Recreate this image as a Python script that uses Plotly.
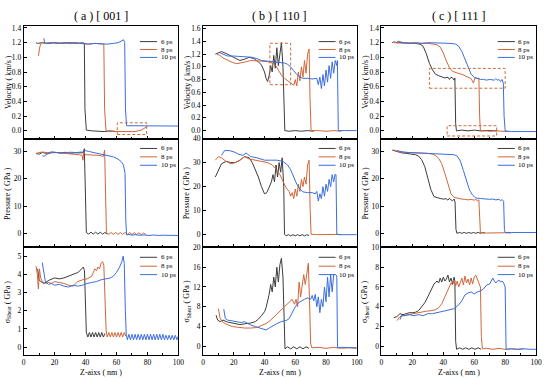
import plotly.graph_objects as go

# ---------------- data (Z position nm, value) ----------------
SERIES = ["6 ps", "8 ps", "10 ps"]
PANEL_TITLES = ["( a ) [ 001 ]", "( b ) [ 110 ]", "( c ) [ 111 ]"]
Y_TITLES = ["Velocity ( km/s )", "Pressure ( GPa )", "σ<sub>Shear</sub> ( GPa )"]
X_TITLE = "Z-aixs ( nm )"
X_TICKS = [0, 20, 40, 60, 80, 100]
VEL_TICKS_AC = [0.0, 0.2, 0.4, 0.6, 0.8, 1.0, 1.2, 1.4]
VEL_TICKS_B = [0.0, 0.2, 0.4, 0.6, 0.8, 1.0, 1.2, 1.4, 1.6]
P_TICKS_AC = [0, 10, 20, 30]
P_TICKS_B = [0, 10, 20, 30, 40]
S_TICKS_A = [0, 1, 2, 3, 4, 5]
S_TICKS_B = [0, 4, 8, 12, 16, 20]
S_TICKS_C = [0, 2, 4, 6, 8, 10]

A_VEL_6 = [(8,1.20),(9,1.19),(12,1.20),(16,1.19),(20,1.20),(24,1.19),(28,1.20),(32,1.19),(36,1.19),(38,1.20),(39.2,1.19),(39.6,0.30),(40.5,0.01),(44,0.00),(48,-0.01),(52,-0.01),(56,0.00),(60,-0.01)]
A_VEL_8 = [(9.5,1.02),(10.5,1.15),(11.5,1.20),(14,1.19),(18,1.20),(22,1.19),(26,1.19),(30,1.20),(34,1.19),(38,1.18),(42,1.18),(46,1.19),(50,1.18),(51.8,1.18),(52.3,0.30),(53.2,0.00),(56,-0.01),(60,-0.01),(64,-0.02),(68,-0.02),(72,-0.01),(76,0.01),(78,0.04),(80,0.06)]
A_VEL_10 = [(13,1.26),(13.5,1.20),(14.5,1.19),(18,1.20),(22,1.19),(26,1.20),(30,1.19),(34,1.20),(38,1.19),(42,1.18),(46,1.19),(50,1.18),(54,1.18),(58,1.19),(61,1.20),(63,1.22),(64.5,1.24),(65.3,1.20),(65.8,0.30),(66.5,0.07),(70,0.07),(75,0.065),(80,0.07),(85,0.065),(90,0.07),(95,0.065),(100,0.065)]

A_P_6 = [(8,29.2),(10,29.0),(12,29.6),(15,29.3),(18,29.8),(21,29.5),(24,29.4),(27,29.7),(30,29.3),(33,29.5),(36,29.4),(38.5,29.5),(39.2,31.0),(39.8,15.0),(40.5,0.4),(42,-0.2),(43.5,0.5),(45,-0.2),(46.5,0.5),(48,-0.2),(49.5,0.5),(51,-0.2),(52.5,0.4),(54,-0.2)]
A_P_8 = [(8,29.3),(10,29.5),(12,29.8),(16,29.5),(20,29.7),(24,29.4),(28,29.3),(32,29.0),(36,28.8),(37.8,28.5),(38.3,26.8),(38.8,29.8),(40,28.8),(44,28.8),(48,28.6),(50,28.4),(51.5,28.2),(52.3,30.5),(52.7,15.0),(53.5,0.3),(55,-0.3),(56.5,0.4),(58,-0.3),(59.5,0.4),(61,-0.3),(62.5,0.4),(64,-0.3),(65.5,0.4),(67,-0.3),(68.5,0.4),(70,-0.3),(71.5,0.3),(73,-0.4),(74.5,0.3),(76,-0.4),(77.5,0.2),(79,-0.4)]
A_P_10 = [(12,28.5),(13,28.2),(15,29.0),(18,29.5),(22,29.6),(26,29.5),(30,29.7),(34,29.6),(38,29.8),(40,30.3),(42,30.0),(46,29.5),(50,29.2),(54,28.7),(58,28.0),(61,27.2),(63,26.3),(64.5,25.0),(65.5,22.0),(66,5.0),(66.5,-0.5),(68,-0.3),(70,-0.6),(72,-0.4),(75,-0.6),(78,-0.5),(81,-0.7),(84,-0.5),(87,-0.7),(90,-0.6),(93,-0.7),(96,-0.6),(100,-0.7)]

A_S_6 = [(9,4.3),(10,3.7),(11,3.6),(13,3.5),(15,3.6),(17,3.7),(20,3.8),(23,3.75),(26,3.8),(29,3.9),(32,4.0),(35,4.1),(37,4.25),(38.5,4.4),(39.3,4.2),(39.9,2.0),(40.5,0.8),(41.5,0.55),(42.5,0.8),(43.5,0.55),(44.5,0.8),(45.5,0.55),(46.5,0.8),(47.5,0.55),(48.5,0.8),(49.5,0.55),(50.5,0.8),(51.5,0.55),(52.5,0.75)]
A_S_8 = [(8,4.45),(8.8,4.0),(9.5,3.2),(10.2,4.3),(11,3.8),(12,3.6),(14,3.5),(16,3.55),(18,3.5),(20,3.6),(23,3.55),(26,3.5),(29,3.4),(32,3.35),(35,3.6),(38,3.7),(41,3.75),(44,3.9),(46,4.3),(47,4.2),(48,4.4),(49,4.3),(50,4.6),(51,4.7),(51.8,4.5),(52.5,2.5),(53.3,0.9),(54,0.55),(55,0.8),(56,0.55),(57,0.8),(58,0.55),(59,0.8),(60,0.55),(61,0.8),(62,0.55),(63,0.8),(64,0.55),(65,0.8),(66,0.6)]
A_S_10 = [(12,4.65),(13,4.1),(14,3.6),(16,3.45),(18,3.5),(20,3.4),(23,3.45),(26,3.35),(29,3.3),(32,3.4),(35,3.35),(38,3.4),(41,3.5),(44,3.55),(47,3.6),(50,3.7),(53,3.75),(56,3.8),(58,3.9),(60,4.1),(62,4.4),(63.5,4.7),(64.3,5.0),(65,4.6),(65.7,2.0),(66.3,0.7),(67,0.4),(68,0.7),(69,0.4),(70,0.7),(71,0.4),(72,0.7),(73,0.4),(74,0.7),(75,0.4),(76,0.7),(77,0.4),(78,0.7),(79,0.4),(80,0.7),(81,0.4),(82,0.7),(83,0.4),(84,0.7),(85,0.4),(86,0.7),(87,0.4),(88,0.7),(89,0.4),(90,0.7),(91,0.4),(92,0.65),(93,0.4),(94,0.65),(95,0.4),(96,0.65),(97,0.4),(98,0.65),(99,0.4),(100,0.6)]

B_VEL_6 = [(8,1.20),(10,1.22),(12,1.24),(15,1.21),(18,1.17),(21,1.13),(24,1.10),(27,1.12),(30,1.15),(33,1.13),(36,1.08),(38,1.03),(40,0.92),(41,0.82),(42,0.77),(43,0.86),(44,1.02),(45,0.92),(46,1.18),(47,0.98),(48,1.30),(49,1.02),(50,1.20),(51,1.38),(52,1.00),(52.6,0.30),(53.2,0.00),(56,-0.01),(60,0.00),(64,-0.01),(68,0.00),(72,-0.01)]
B_VEL_8 = [(9,1.20),(11,1.18),(13,1.14),(16,1.10),(19,1.07),(22,1.05),(25,1.06),(28,1.08),(31,1.10),(34,1.10),(38,1.09),(42,1.08),(45,1.06),(47,1.03),(49,0.95),(51,0.87),(53,0.82),(55,0.78),(57,0.74),(59,0.71),(60,0.80),(61,0.70),(62,0.92),(63,0.78),(64,1.00),(65,0.84),(66,1.10),(67,0.90),(68,1.20),(69,1.28),(69.6,0.50),(70.3,0.00),(75,0.00),(80,-0.01),(85,0.00),(90,-0.01)]
B_VEL_10 = [(11,1.22),(13,1.20),(16,1.17),(20,1.17),(24,1.16),(28,1.16),(32,1.15),(35,1.13),(38,1.10),(42,1.09),(46,1.08),(50,1.07),(53,1.06),(55,1.04),(57,1.00),(59,0.94),(61,0.88),(63,0.84),(65,0.82),(68,0.82),(71,0.81),(74,0.82),(75,0.72),(76,0.84),(77,0.66),(78,0.88),(79,0.70),(80,0.95),(81,0.76),(82,1.02),(83,0.82),(84,1.08),(85,0.90),(86,1.10),(87,1.02),(87.4,1.10),(88,0.00),(92,0.00),(96,0.00),(100,0.00)]

B_P_6 = [(8,24.0),(10,27.0),(12,29.5),(15,30.5),(18,30.0),(21,30.0),(24,31.0),(27,32.5),(30,32.0),(32,30.0),(34,27.0),(36,24.0),(38,20.0),(40,17.0),(41.5,17.5),(43,20.0),(44.5,22.0),(45.5,25.0),(46.5,22.0),(47.5,29.0),(48.5,24.0),(49.5,30.0),(50.5,26.0),(51.5,32.0),(52.5,20.0),(53,0.2),(54,-0.5),(55.5,0.0),(57,-0.5),(58.5,0.0),(60,-0.5),(61.5,0.0),(63,-0.5),(64.5,0.0),(66,-0.5),(67.5,0.0),(69,-0.4)]
B_P_8 = [(8,31.0),(10,32.5),(12,32.0),(15,30.5),(18,29.5),(21,30.0),(24,31.0),(27,32.5),(30,31.5),(34,31.0),(38,30.5),(42,30.0),(45,29.0),(48,27.0),(50,25.0),(52,22.0),(54,19.5),(56,18.0),(57,16.0),(58,17.5),(59,15.0),(60,19.0),(61,16.0),(62,21.0),(63,18.0),(64,23.0),(65,20.0),(66,24.0),(67,21.0),(68,29.0),(69,31.0),(69.7,10.0),(70.3,0.2),(74,0.0),(78,0.1),(82,0.0),(86,0.1),(90,0.0)]
B_P_10 = [(12,33.0),(14,35.0),(17,35.0),(20,34.5),(23,33.5),(26,33.0),(28,34.0),(31,32.5),(35,32.0),(40,31.0),(44,31.0),(48,31.0),(52,30.5),(55,29.0),(57,27.0),(59,24.0),(61,21.0),(63,19.0),(65,17.8),(68,17.5),(71,17.5),(73,17.0),(74,18.0),(75,14.0),(76,17.0),(77,15.0),(78,20.0),(79,16.0),(80,21.0),(81,18.0),(82,23.0),(83,20.0),(84,25.0),(85,22.0),(85.8,25.0),(86.5,25.0),(87,0.2),(90,0.0),(95,0.1),(100,0.0)]

B_S_6 = [(8.5,6.3),(9.5,5.3),(11,5.0),(13,5.3),(16,4.9),(20,4.6),(24,4.4),(28,4.6),(31,4.7),(34,5.0),(36,5.5),(38,6.2),(40,7.0),(41,7.8),(42,9.0),(43,10.5),(44,12.5),(45,11.0),(46,14.0),(47,12.0),(48,16.0),(49,13.0),(50,16.5),(51,17.8),(52,14.0),(52.7,3.0),(53.3,-0.5),(55,-0.1),(57,-0.5),(59,-0.1),(61,-0.5),(63,-0.1),(65,-0.5),(67,-0.1),(69,-0.4)]
B_S_8 = [(10,7.6),(11,5.8),(12.5,5.0),(15,4.5),(19,4.0),(23,3.8),(27,3.7),(31,3.7),(35,3.8),(38,4.2),(41,4.6),(44,5.3),(47,6.2),(50,7.2),(53,8.2),(56,9.0),(58,9.5),(59.5,8.5),(60.5,9.5),(61.5,8.0),(62.5,13.0),(63.5,10.0),(64.5,12.0),(65.5,14.5),(66.5,12.5),(67.5,15.0),(68.5,16.8),(69.3,9.0),(70,0.5),(70.8,-0.3),(75,-0.2),(80,-0.4),(85,-0.2),(90,-0.4),(95,-0.3),(100,-0.4)]
B_S_10 = [(13.5,7.5),(14.5,5.6),(16,5.3),(19,5.1),(22,5.0),(25,4.8),(27,5.0),(29,4.6),(31,4.3),(34,4.0),(37,3.7),(39,3.4),(41,3.3),(43,3.7),(45,4.1),(48,4.6),(51,5.0),(54,5.2),(56,5.6),(58,6.8),(60,8.0),(62,8.8),(64,9.2),(66,9.5),(68,9.8),(70,9.5),(71,10.3),(72,9.2),(73,10.5),(74,8.0),(75,10.0),(76,6.8),(77,9.5),(78,8.0),(79,12.0),(80,9.0),(81,14.0),(82,10.0),(83,14.5),(84,11.0),(85,14.5),(86,14.5),(87,14.3),(87.5,-0.3),(90,-0.2),(95,-0.3),(100,-0.3)]

C_VEL_6 = [(7,1.20),(8,1.21),(10,1.20),(14,1.20),(18,1.19),(22,1.19),(25,1.18),(27,1.15),(29,1.05),(31,0.92),(33,0.83),(35,0.77),(37,0.75),(39,0.74),(41,0.72),(43,0.73),(44,0.70),(45,0.73),(46,0.72),(47,0.69),(47.5,0.72),(48,0.10),(48.5,0.00),(52,0.01),(56,0.00),(60,0.01),(64,0.00),(68,0.005),(72,0.00),(75,0.00)]
C_VEL_8 = [(8,1.20),(12,1.20),(16,1.19),(20,1.20),(25,1.19),(30,1.19),(34,1.18),(36,1.17),(38,1.14),(40,1.06),(42,0.95),(44,0.86),(46,0.81),(48,0.79),(50,0.78),(52,0.77),(54,0.75),(56,0.73),(58,0.71),(59.5,0.65),(60.5,0.72),(62,0.71),(63,0.72),(63.5,0.20),(64,0.00),(67,0.00),(70,-0.005),(74,0.00),(78,-0.005),(82,-0.01)]
C_VEL_10 = [(10,1.21),(11,1.22),(14,1.20),(18,1.19),(22,1.20),(26,1.19),(30,1.20),(35,1.20),(40,1.19),(45,1.19),(48,1.18),(50,1.15),(52,1.08),(54,0.98),(56,0.86),(58,0.77),(60,0.73),(62,0.71),(64,0.70),(66,0.70),(68,0.69),(70,0.70),(72,0.70),(73,0.69),(74,0.71),(75,0.69),(76,0.70),(77,0.67),(78,0.70),(78.8,0.65),(79.3,0.20),(80,0.00),(84,-0.01),(88,-0.01),(92,-0.01),(96,-0.01),(100,-0.01)]

C_P_6 = [(7,30.5),(10,30.0),(13,29.5),(16,29.3),(19,29.0),(22,28.8),(24,28.3),(26,27.0),(28,24.5),(30,20.5),(32,16.0),(34,13.5),(36,13.0),(38,12.8),(40,12.6),(42,12.7),(43,12.2),(44,12.9),(45,12.3),(46,12.0),(47,12.6),(47.6,11.5),(48.2,1.5),(48.8,0.1),(50.5,0.4),(52,0.1),(53.5,0.4),(55,0.1),(56.5,0.4),(58,0.1),(59.5,0.4),(61,0.1),(62.5,0.4),(64,0.1),(65.5,0.4),(67,0.2)]
C_P_8 = [(8,30.5),(12,29.8),(16,29.6),(20,29.5),(25,29.5),(30,29.3),(33,29.0),(35,28.5),(37,27.5),(39,25.5),(41,22.0),(43,18.0),(45,14.5),(47,13.2),(50,12.7),(52,12.6),(54,12.5),(56,12.3),(58,12.5),(60,12.2),(61,12.5),(62,12.0),(63,12.3),(63.5,1.5),(64,0.3),(68,0.2),(72,0.3),(76,0.2),(80,0.3),(84,0.2)]
C_P_10 = [(10,30.3),(14,29.8),(18,29.6),(22,29.5),(26,29.5),(30,29.4),(35,29.3),(40,29.0),(44,29.0),(47,28.8),(49,28.3),(51,26.5),(53,23.0),(55,19.0),(57,15.8),(59,14.0),(61,13.0),(64,12.8),(67,12.6),(70,12.5),(72,12.6),(74,12.3),(76,12.5),(77,12.0),(78,12.4),(79,11.8),(79.5,1.5),(80,0.4),(84,0.4),(88,0.4),(92,0.4),(96,0.4),(100,0.4)]

C_S_6 = [(8,2.9),(10,3.0),(12,3.3),(14,3.2),(16,3.3),(18,3.4),(20,3.4),(22,3.45),(24,3.6),(26,4.0),(28,4.4),(30,5.0),(32,5.6),(34,6.3),(36,6.6),(37,6.4),(38,6.9),(39,6.5),(40,7.0),(41,6.6),(42,6.8),(43,7.2),(44,6.5),(45,6.9),(46,6.3),(47,7.0),(47.5,6.6),(48,0.5),(48.6,-0.3),(50.5,-0.15),(52.5,-0.3),(54.5,-0.15),(56.5,-0.3),(58.5,-0.15),(60.5,-0.3),(62.5,-0.15),(64.5,-0.3)]
C_S_8 = [(10,2.6),(12,3.0),(14,3.1),(17,3.2),(20,3.3),(23,3.4),(26,3.5),(29,3.55),(32,3.6),(35,3.7),(37,3.9),(39,4.3),(41,5.0),(43,5.8),(45,6.4),(46,6.2),(47,6.7),(48,6.1),(49,6.6),(50,6.0),(51,6.5),(52,6.9),(53,6.2),(54,7.1),(55,6.4),(56,6.8),(57,6.2),(58,6.9),(59,6.3),(60,7.0),(61,7.2),(62,6.8),(63,6.4),(64,6.0),(64.6,1.0),(65.3,-0.25),(68,-0.2),(72,-0.3),(76,-0.2),(80,-0.3),(84,-0.25),(88,-0.3),(92,-0.25)]
C_S_10 = [(12,2.7),(13,3.1),(15,3.1),(18,3.2),(21,3.1),(24,3.2),(27,3.1),(30,3.3),(33,3.3),(36,3.4),(40,3.6),(44,3.7),(47,3.8),(50,4.2),(52,4.6),(54,5.2),(56,5.4),(58,5.5),(60,5.3),(62,5.5),(64,5.6),(66,5.8),(68,6.2),(70,6.3),(71,6.6),(72,6.9),(73,6.6),(74,6.4),(75,6.6),(76,6.7),(77,6.5),(78,6.6),(79,6.4),(80,6.0),(80.6,-0.3),(84,-0.25),(88,-0.3),(92,-0.25),(96,-0.3),(100,-0.3)]

# ---------------- styling / layout ----------------
W, H = 550, 378
FONT = "Liberation Serif"
COLORS = ["#3c3c3c", "#d2663a", "#3a6ee0"]
BOX_COLOR = "#c4703e"
COL_PX = [(22, 179), (204, 360), (385, 542)]
ROW_PX = [(22, 136), (136, 246), (246, 355)]
LEG_OFF = [(16, 24, 32), (10, 18.5, 27), (10, 19, 27.5)]
TICK_SIZE = 7.5

PANELS = [
    [(A_VEL_6, A_VEL_8, A_VEL_10), (B_VEL_6, B_VEL_8, B_VEL_10), (C_VEL_6, C_VEL_8, C_VEL_10)],
    [(A_P_6, A_P_8, A_P_10), (B_P_6, B_P_8, B_P_10), (C_P_6, C_P_8, C_P_10)],
    [(A_S_6, A_S_8, A_S_10), (B_S_6, B_S_8, B_S_10), (C_S_6, C_S_8, C_S_10)],
]
YTICKS = [
    [VEL_TICKS_AC, VEL_TICKS_B, VEL_TICKS_AC],
    [P_TICKS_AC, P_TICKS_B, P_TICKS_AC],
    [S_TICKS_A, S_TICKS_B, S_TICKS_C],
]
YRANGES = [
    [(-0.105, 1.43), (-0.125, 1.645), (-0.105, 1.43)],
    [(-5.05, 34.7), (-5.3, 40.0), (-5.05, 34.7)],
    [(-0.45, 5.48), (-1.8, 20.0), (-0.9, 10.0)],
]
YFMT = [".1f", "d", "d"]

# dashed highlight boxes: (row, col, x0, x1, y0, y1)
BOXES = [
    (0, 0, 60.5, 79.5, -0.05, 0.11),
    (0, 1, 43.5, 57.0, 0.72, 1.37),
    (0, 2, 31.0, 80.0, 0.58, 0.85),
    (0, 2, 42.5, 74.5, -0.07, 0.07),
]

fig = go.Figure()
layout = dict(
    width=W, height=H, margin=dict(l=0, r=0, t=0, b=0),
    paper_bgcolor="white", plot_bgcolor="white", showlegend=False,
    font=dict(family=FONT, size=8, color="black"),
)
annotations, shapes = [], []


def px_x(p):
    return p / W


def px_y(p):
    return 1 - p / H


for r in range(3):
    for c in range(3):
        k = r * 3 + c + 1
        sx = "" if k == 1 else str(k)
        xref, yref = "x" + sx, "y" + sx
        (x0p, x1p), (y0p, y1p) = COL_PX[c], ROW_PX[r]
        layout["xaxis" + sx] = dict(
            domain=[px_x(x0p), px_x(x1p)], range=[0, 100], anchor=yref,
            tickmode="array", tickvals=X_TICKS, showticklabels=(r == 2),
            ticks="inside", ticklen=3, tickwidth=1, tickcolor="black",
            minor=dict(ticks="inside", ticklen=2, dtick=10, tick0=0, tickcolor="black"),
            showline=True, mirror=True, linecolor="black", linewidth=1,
            showgrid=False, zeroline=False, fixedrange=True,
            tickfont=dict(family=FONT, size=TICK_SIZE, color="black"),
        )
        yr = YRANGES[r][c]
        layout["yaxis" + sx] = dict(
            domain=[px_y(y1p), px_y(y0p)], range=list(yr), anchor=xref,
            tickmode="array", tickvals=YTICKS[r][c], tickformat=YFMT[r],
            ticks="inside", ticklen=3, tickwidth=1, tickcolor="black",
            showline=True, mirror=True, linecolor="black", linewidth=1,
            showgrid=False, zeroline=False, fixedrange=True,
            tickfont=dict(family=FONT, size=TICK_SIZE, color="black"),
        )
        hgt = y1p - y0p
        for i, curve in enumerate(PANELS[r][c]):
            xs = [p[0] for p in curve]
            ys = [p[1] for p in curve]
            fig.add_trace(go.Scatter(
                x=xs, y=ys, mode="lines", name=SERIES[i],
                line=dict(color=COLORS[i], width=1),
                xaxis=xref, yaxis=yref, hoverinfo="skip",
            ))
            yl = 1 - LEG_OFF[r][i] / hgt
            shapes.append(dict(type="line", xref=xref + " domain", yref=yref + " domain",
                               x0=0.752, x1=0.862, y0=yl, y1=yl,
                               line=dict(color=COLORS[i], width=1)))
            annotations.append(dict(text=SERIES[i], xref=xref + " domain", yref=yref + " domain",
                                    x=0.872, y=yl, xanchor="left", yanchor="middle",
                                    showarrow=False, font=dict(family=FONT, size=7, color="black")))
        # y-axis title
        annotations.append(dict(text=Y_TITLES[r], xref="paper", yref="paper",
                                x=px_x(x0p - 16), y=px_y((y0p + y1p) / 2),
                                xanchor="center", yanchor="middle", textangle=-90,
                                showarrow=False, font=dict(family=FONT, size=8, color="black")))
        if r == 2:
            annotations.append(dict(text=X_TITLE, xref="paper", yref="paper",
                                    x=px_x((x0p + x1p) / 2), y=px_y(372),
                                    xanchor="center", yanchor="middle", showarrow=False,
                                    font=dict(family=FONT, size=8, color="black")))
        if r == 0:
            annotations.append(dict(text=PANEL_TITLES[c], xref="paper", yref="paper",
                                    x=px_x((x0p + x1p) / 2), y=px_y(12),
                                    xanchor="center", yanchor="middle", showarrow=False,
                                    font=dict(family=FONT, size=12, color="black")))

for (r, c, bx0, bx1, by0, by1) in BOXES:
    k = r * 3 + c + 1
    sx = "" if k == 1 else str(k)
    shapes.append(dict(type="rect", xref="x" + sx, yref="y" + sx,
                       x0=bx0, x1=bx1, y0=by0, y1=by1,
                       line=dict(color=BOX_COLOR, width=1, dash="3px,2px"),
                       fillcolor="rgba(0,0,0,0)"))

layout["annotations"] = annotations
layout["shapes"] = shapes
fig.update_layout(**layout)
fig.write_html("out.html", config={"displayModeBar": False},
               post_script="document.body.style.margin='0px';document.body.style.padding='0px';")
